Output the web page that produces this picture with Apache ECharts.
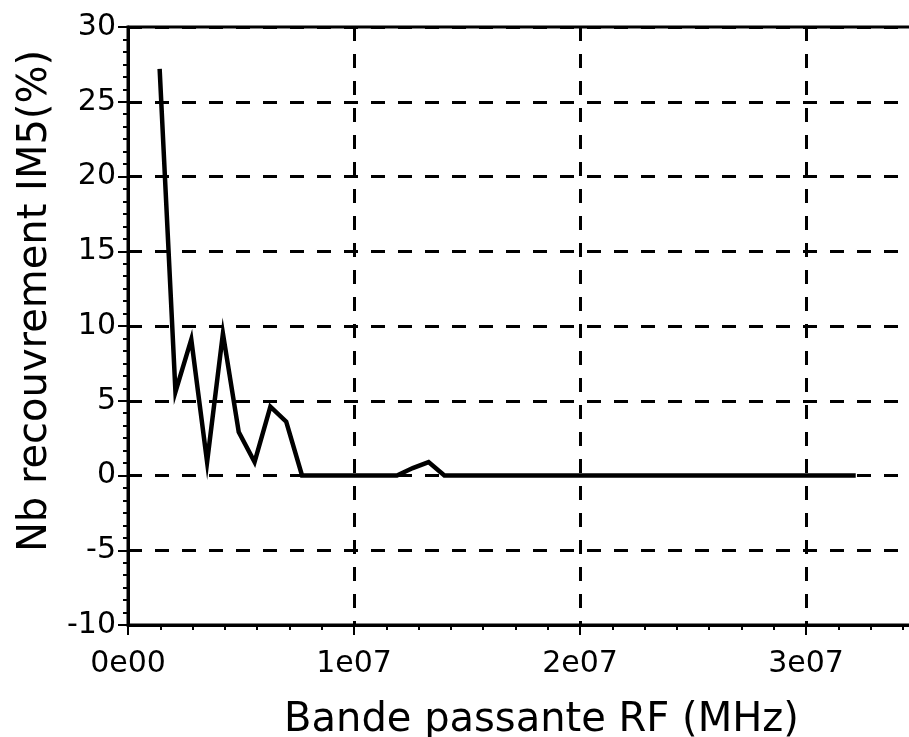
<!DOCTYPE html>
<html>
<head>
<meta charset="utf-8">
<script src="https://cdn.jsdelivr.net/npm/echarts@6/dist/echarts.min.js"></script>
<style>
  html, body { margin: 0; padding: 0; background: #fff; }
  #main { width: 909px; height: 737px; }
</style>
</head>
<body>
<div id="main"></div>
<script>
// bande passante RF (axe x)
var bandes = [1.4e6, 2.1e6, 2.8e6, 3.5e6, 4.2e6, 4.9e6, 5.6e6, 6.3e6, 7.0e6, 7.7e6,
              8.4e6, 9.1e6, 9.8e6, 10.5e6, 11.2e6, 11.9e6, 12.6e6, 13.3e6, 14.0e6, 14.7e6,
              15.4e6, 16.1e6, 16.8e6, 17.5e6, 18.2e6, 18.9e6, 19.6e6, 20.3e6, 21.0e6, 21.7e6,
              22.4e6, 23.1e6, 23.8e6, 24.5e6, 25.2e6, 25.9e6, 26.6e6, 27.3e6, 28.0e6, 28.7e6,
              29.4e6, 30.1e6, 30.8e6, 31.5e6, 32.2e6];
// recouvrement IM5 en %
var recouvrement = [27.2, 5.6, 9.1, 0.9, 9.5, 2.9, 0.9, 4.6, 3.6, 0,
                    0, 0, 0, 0, 0, 0, 0.5, 0.9, 0, 0,
                    0, 0, 0, 0, 0, 0, 0, 0, 0, 0,
                    0, 0, 0, 0, 0, 0, 0, 0, 0, 0,
                    0, 0, 0, 0, 0];
var xTicks = ['0e00', '1e07', '2e07', '3e07'];

var police = 'DejaVu Sans';
var myChart = echarts.init(document.getElementById('main'));

var points = bandes.map(function (b, i) { return [b, recouvrement[i]]; });

var pointille = { color: '#000', width: 3, type: [14, 13] };

var option = {
    backgroundColor: '#fff',
    animation: false,
    grid: {
        left: 128, top: 27, width: 791, height: 598,
        outerBoundsMode: 'none',
        containLabel: false,
        show: true, borderColor: '#000', borderWidth: 3, backgroundColor: 'transparent'
    },
    xAxis: {
        type: 'value',
        min: 0, max: 3.5e7, interval: 1e7,
        name: 'Bande passante RF (MHz)',
        nameLocation: 'middle',
        nameGap: 76,
        nameTextStyle: { fontFamily: police, fontSize: 40, color: '#000', padding: [0, 0, 0, 36] },
        axisLine: { onZero: false, lineStyle: { color: '#000', width: 3 } },
        axisTick: { inside: false, length: 10, lineStyle: { color: '#000', width: 2 } },
        minorTick: { show: true, splitNumber: 7, length: 5, lineStyle: { color: '#000', width: 2 } },
        axisLabel: {
            fontFamily: police, fontSize: 30, color: '#000', margin: 24,
            formatter: function (v) {
                var k = Math.round(v / 1e7);
                return Math.abs(v - k * 1e7) < 1 ? (xTicks[k] || '') : '';
            }
        },
        splitLine: { show: true, lineStyle: pointille }
    },
    yAxis: {
        type: 'value',
        min: -10, max: 30, interval: 5,
        name: 'Nb recouvrement IM5(%)',
        nameLocation: 'middle',
        nameGap: 70,
        nameTextStyle: { fontFamily: police, fontSize: 40, color: '#000', padding: [0, 0, 0, 50] },
        axisLine: { onZero: false, lineStyle: { color: '#000', width: 3 } },
        axisTick: { inside: false, length: 10, lineStyle: { color: '#000', width: 2 } },
        minorTick: { show: true, splitNumber: 6, length: 5, lineStyle: { color: '#000', width: 2 } },
        axisLabel: { fontFamily: police, fontSize: 30, color: '#000', margin: 12 },
        splitLine: { show: true, lineStyle: pointille }
    },
    series: [{
        type: 'line',
        data: points,
        symbol: 'none',
        z: 5,
        lineStyle: { color: '#000', width: 4.5, join: 'miter', cap: 'butt' }
    }]
};
myChart.setOption(option);
</script>
</body>
</html>
